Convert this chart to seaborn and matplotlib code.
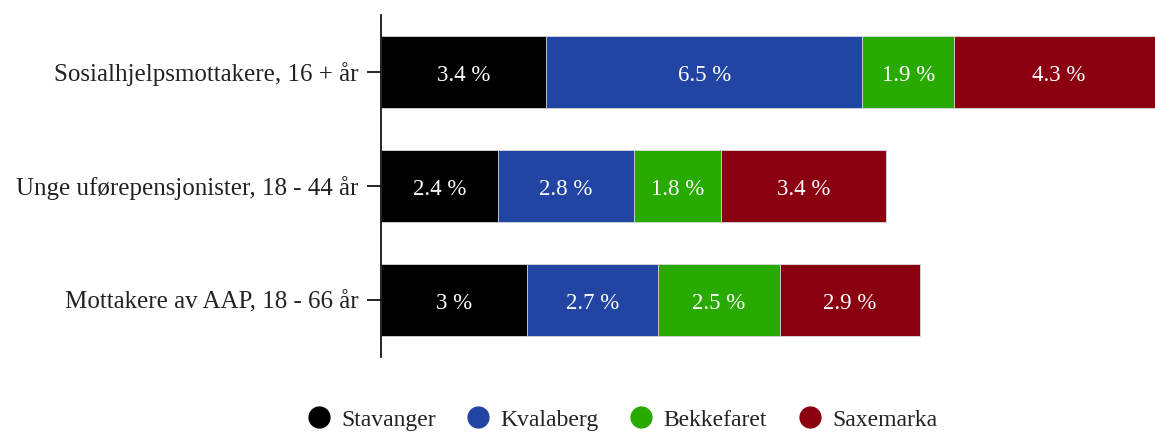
import matplotlib
matplotlib.use("Agg")
import matplotlib.pyplot as plt
from matplotlib.lines import Line2D
import seaborn as sns
import pandas as pd
import numpy as np

# data
groups = ["Sosialhjelpsmottakere, 16 + år",
          "Unge uførepensjonister, 18 - 44 år",
          "Mottakere av AAP, 18 - 66 år"]
areas = ["Stavanger", "Kvalaberg", "Bekkefaret", "Saxemarka"]
stavanger = [3.4, 2.4, 3.0]
kvalaberg = [6.5, 2.8, 2.7]
bekkefaret = [1.9, 1.8, 2.5]
saxemarka = [4.3, 3.4, 2.9]

COLORS = ["#000000", "#2244A3", "#28AA00", "#8B0011"]

sns.set_theme(style="white")
plt.rcParams["font.family"] = ["Liberation Serif", "DejaVu Serif"]

values = np.array([stavanger, kvalaberg, bekkefaret, saxemarka])
cum = values.cumsum(axis=0)

fig = plt.figure(figsize=(11.55, 4.33), dpi=100)
ax = fig.add_axes([381 / 1155, 76 / 433, 774 / 1155, 342 / 433])

# stacked bars: draw the running totals from the longest down
for k in range(len(areas) - 1, -1, -1):
    df = pd.DataFrame({"group": groups, "value": cum[k]})
    sns.barplot(data=df, x="value", y="group", orient="h",
                color=COLORS[k], width=0.64, edgecolor="#dddddd",
                linewidth=0.6, saturation=1, ax=ax)

for k in range(len(areas)):
    for i in range(len(groups)):
        v = values[k, i]
        ax.text(cum[k, i] - v / 2, i + 0.03, f"{v:g} %", ha="center",
                va="center", color="white", fontsize=16.5)

ax.set_xlim(0, 774 / 48.6)
ax.set_ylim(2.5, -0.5)
ax.set_xlabel("")
ax.set_ylabel("")
ax.set_xticks([])
for side in ["top", "right", "bottom"]:
    ax.spines[side].set_visible(False)
ax.spines["left"].set_color("black")
ax.spines["left"].set_linewidth(1.2)
ax.tick_params(axis="y", left=True, length=10, width=1.2, color="black",
               pad=6, labelsize=18, labelcolor="#222222")

handles = [Line2D([], [], marker="o", linestyle="", markersize=15,
                  markerfacecolor=c, markeredgecolor=c) for c in COLORS]
fig.legend(handles, areas, loc="center", bbox_to_anchor=(622 / 1155, 1 - 420 / 433),
           ncol=4, frameon=False, fontsize=17, handlelength=1.0,
           handletextpad=0.45, columnspacing=1.3, labelcolor="#222222")

fig.savefig("out.png", dpi=100)
